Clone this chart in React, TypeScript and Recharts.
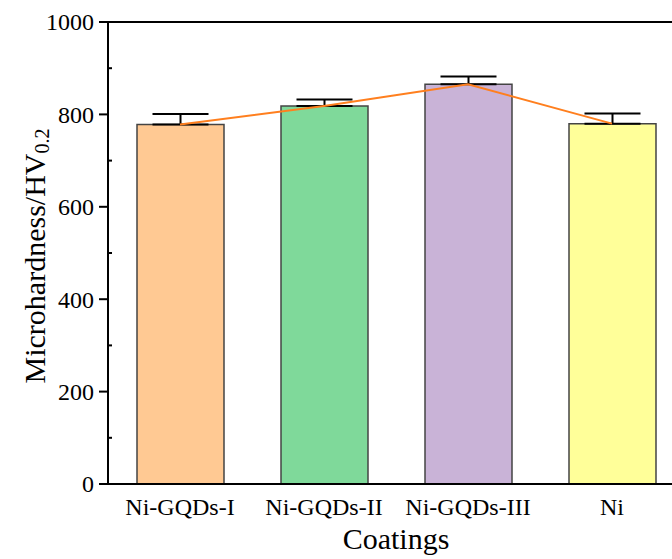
import React from 'react';
import {
  ComposedChart,
  Bar,
  Line,
  Cell,
  ErrorBar,
  XAxis,
  YAxis,
  ReferenceLine,
  Label
} from 'recharts';

const categories = ['Ni-GQDs-I', 'Ni-GQDs-II', 'Ni-GQDs-III', 'Ni'];
const hardness = [778, 818, 865, 780];
const errors = [23, 14, 17, 22];
const barColors = ['#ffc993', '#7fd99a', '#c9b3d7', '#ffff99'];
const yTicks = [0, 100, 200, 300, 400, 500, 600, 700, 800, 900, 1000];
const majorTicks = [0, 200, 400, 600, 800, 1000];

const FONT = '"Liberation Serif", "Times New Roman", serif';

const data = categories.map((name, i) => ({
  name,
  hardness: hardness[i],
  err: [0, errors[i]]
}));

// major ticks point outward with a label, minor ones point inward
const YTick = (props: any) => {
  const { x, y, payload } = props;
  const major = majorTicks.includes(payload.value);
  if (!major) {
    return <line x1={x} y1={y} x2={x + 4} y2={y} stroke="#000" strokeWidth={2} />;
  }
  return (
    <g>
      <line x1={x - 9} y1={y} x2={x} y2={y} stroke="#000" strokeWidth={2} />
      <text
        x={x - 14}
        y={y}
        dy="0.35em"
        textAnchor="end"
        fill="#000"
        style={{ fontSize: 24, fontFamily: FONT }}
      >
        {payload.value}
      </text>
    </g>
  );
};

const YTitle = (props: any) => {
  const { viewBox } = props;
  const cx = 45;
  const cy = viewBox.y + viewBox.height / 2 + 3;
  return (
    <text
      x={cx}
      y={cy}
      textAnchor="middle"
      fill="#000"
      style={{ fontSize: 30, fontFamily: FONT }}
      transform={`rotate(-90, ${cx}, ${cy})`}
    >
      Microhardness/HV
      <tspan style={{ fontSize: 20 }} dy={4}>0.2</tspan>
    </text>
  );
};

export default function App() {
  return (
    <div style={{ position: 'absolute', left: 0, top: 0, width: 672, height: 559, overflow: 'hidden', background: '#fff' }}>
      <ComposedChart
        width={700}
        height={559}
        data={data}
        margin={{ top: 22, right: 16, bottom: 0, left: 0 }}
      >
        <XAxis
          dataKey="name"
          tickLine={false}
          axisLine={{ stroke: '#000', strokeWidth: 2 }}
          tick={{ fill: '#000', style: { fontSize: 24, fontFamily: FONT } }}
          tickMargin={8}
          height={75}
          interval={0}
        >
          <Label
            value="Coatings"
            position="insideBottom"
            offset={10}
            style={{ fontSize: 30, fontFamily: FONT, fill: '#000' }}
          />
        </XAxis>
        <YAxis
          width={108}
          domain={[0, 1000]}
          ticks={yTicks}
          interval={0}
          tickLine={false}
          tickSize={0}
          tickMargin={0}
          tick={<YTick />}
          axisLine={{ stroke: '#000', strokeWidth: 2 }}
        >
          <Label content={<YTitle />} />
        </YAxis>
        <ReferenceLine y={1000} stroke="#000" strokeWidth={2} ifOverflow="visible" />
        <Bar dataKey="hardness" barSize={87} stroke="#444" strokeWidth={1.5} isAnimationActive={false}>
          {data.map((d, i) => (
            <Cell key={d.name} fill={barColors[i]} />
          ))}
          <ErrorBar dataKey="err" direction="y" width={28} stroke="#000" strokeWidth={2} />
        </Bar>
        <Line
          dataKey="hardness"
          stroke="#ff7f1e"
          strokeWidth={2}
          dot={false}
          activeDot={false}
          isAnimationActive={false}
        />
      </ComposedChart>
    </div>
  );
}
